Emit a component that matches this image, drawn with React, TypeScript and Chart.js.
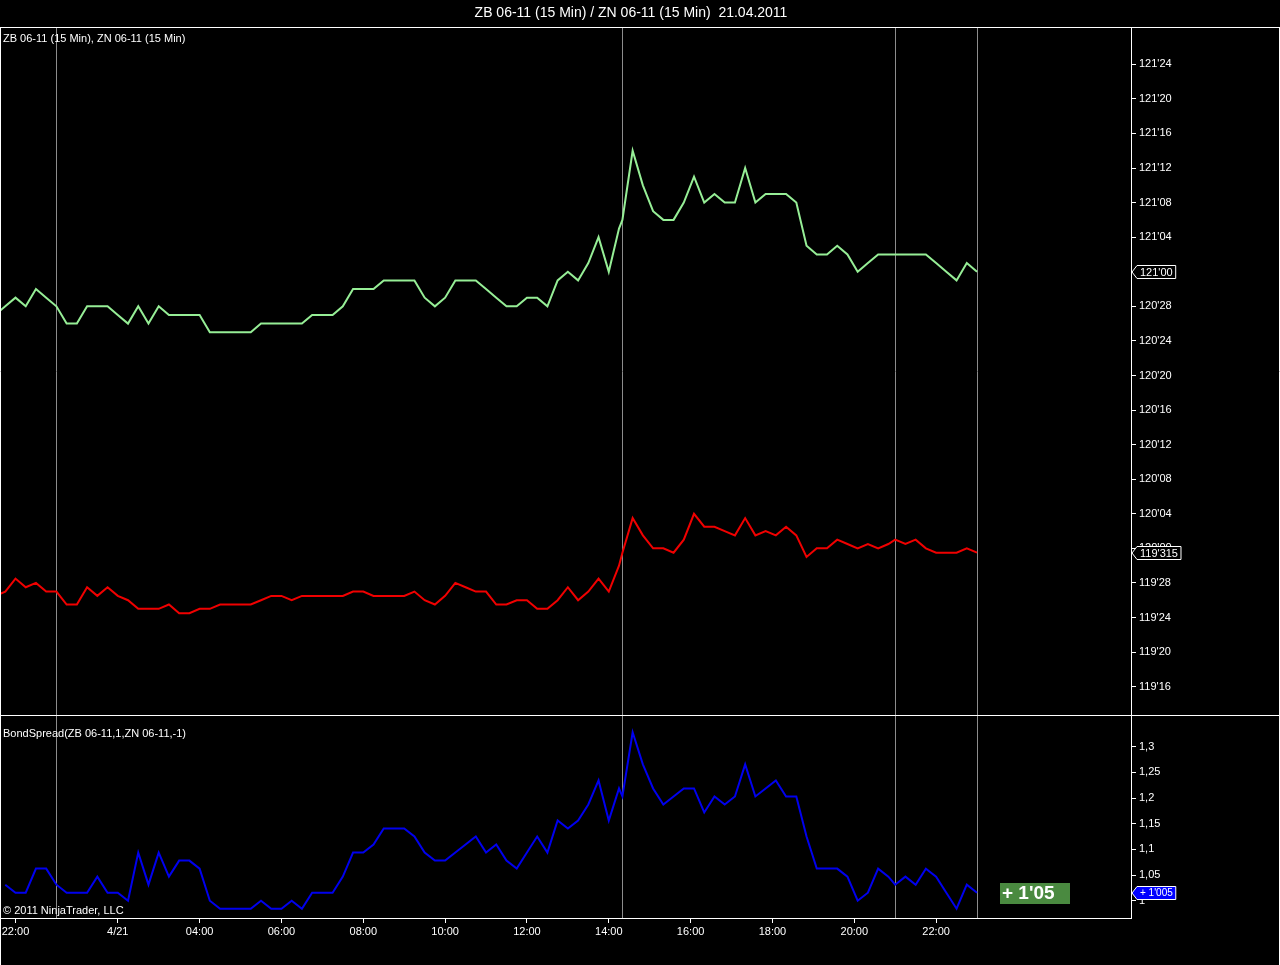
import React, { useEffect, useRef } from "react";
import { Chart, registerables } from "chart.js";

Chart.register(...registerables);

// ---------- texts ----------
const TITLE = "ZB 06-11 (15 Min) / ZN 06-11 (15 Min)  21.04.2011";
const PRICE_PANEL_LABEL = "ZB 06-11 (15 Min), ZN 06-11 (15 Min)";
const SPREAD_PANEL_LABEL = "BondSpread(ZB 06-11,1,ZN 06-11,-1)";
const COPYRIGHT = "\u00A9 2011 NinjaTrader, LLC";
const SPREAD_BADGE = "+ 1'05";

// ---------- data ----------
// bar position on the (gap-free) session time axis, in 15-minute slots;
// partial bars appear at the session breaks (14:20 and 21:00)
const barSlot = [
  0, 1, 2, 3, 4, 5, 6, 7, 8, 9,
  10, 11, 12, 13, 14, 15, 16, 17, 18, 19,
  20, 21, 22, 23, 24, 25, 26, 27, 28, 29,
  30, 31, 32, 33, 34, 35, 36, 37, 38, 39,
  40, 41, 42, 43, 44, 45, 46, 47, 48, 49,
  50, 51, 52, 53, 54, 55, 56, 57, 58, 59,
  60, 61,
  61.333, 62.333, 63.333, 64.333, 65.333, 66.333, 67.333, 68.333, 69.333, 70.333,
  71.333, 72.333, 73.333, 74.333, 75.333, 76.333, 77.333, 78.333, 79.333, 80.333,
  81.333, 82.333, 83.333, 84.333, 85.333, 86.333, 87.333,
  88, 89, 90, 91, 92, 93, 94, 95, 96,
];

// ZB 06-11 closes, in 32nds above 120'00
const ZB_HANDLE = 120;
const zb32 = [
  27, 28, 29, 28, 30, 29, 28, 26, 26, 28,
  28, 28, 27, 26, 28, 26, 28, 27, 27, 27,
  27, 25, 25, 25, 25, 25, 26, 26, 26, 26,
  26, 27, 27, 27, 28, 30, 30, 30, 31, 31,
  31, 31, 29, 28, 29, 31, 31, 31, 30, 29,
  28, 28, 29, 29, 28, 31, 32, 31, 33, 36,
  32, 37,
  38, 46, 42, 39, 38, 38, 40, 43, 40, 41,
  40, 40, 44, 40, 41, 41, 41, 40, 35, 34,
  34, 35, 34, 32, 33, 34, 34,
  34, 34, 34, 34, 33, 32, 31, 33, 32,
];

// ZN 06-11 closes, in 32nds above 119'00
const ZN_HANDLE = 119;
const zn32 = [
  26.5, 27, 28.5, 27.5, 28, 27, 27, 25.5, 25.5, 27.5,
  26.5, 27.5, 26.5, 26, 25, 25, 25, 25.5, 24.5, 24.5,
  25, 25, 25.5, 25.5, 25.5, 25.5, 26, 26.5, 26.5, 26,
  26.5, 26.5, 26.5, 26.5, 26.5, 27, 27, 26.5, 26.5, 26.5,
  26.5, 27, 26, 25.5, 26.5, 28, 27.5, 27, 27, 25.5,
  25.5, 26, 26, 25, 25, 26, 27.5, 26, 27, 28.5,
  27, 30,
  31.5, 35.5, 33.5, 32, 32, 31.5, 33, 36, 34.5, 34.5,
  34, 33.5, 35.5, 33.5, 34, 33.5, 34.5, 33.5, 31, 32,
  32, 33, 32.5, 32, 32.5, 32, 32.5,
  33, 32.5, 33, 32, 31.5, 31.5, 31.5, 32, 31.5,
];

// BondSpread values, in 32nds
const spread32: (number | null)[] = [
  null, 33, 32.5, 32.5, 34, 34, 33, 32.5, 32.5, 32.5,
  33.5, 32.5, 32.5, 32, 35, 33, 35, 33.5, 34.5, 34.5,
  34, 32, 31.5, 31.5, 31.5, 31.5, 32, 31.5, 31.5, 32,
  31.5, 32.5, 32.5, 32.5, 33.5, 35, 35, 35.5, 36.5, 36.5,
  36.5, 36, 35, 34.5, 34.5, 35, 35.5, 36, 35, 35.5,
  34.5, 34, 35, 36, 35, 37, 36.5, 37, 38, 39.5,
  37, 39,
  38.5, 42.5, 40.5, 39, 38, 38.5, 39, 39, 37.5, 38.5,
  38, 38.5, 40.5, 38.5, 39, 39.5, 38.5, 38.5, 36, 34,
  34, 34, 33.5, 32, 32.5, 34, 33.5,
  33, 33.5, 33, 34, 33.5, 32.5, 31.5, 33, 32.5,
];

// time axis labels
const timeTickSlots = [2, 12, 20, 28, 36, 44, 52, 60, 68, 76, 84, 92];
const timeTickLabels = ["22:00", "4/21", "04:00", "06:00", "08:00", "10:00", "12:00", "14:00", "16:00", "18:00", "20:00", "22:00"];
// session break markers
const sessionBreakSlots = [6, 61.333, 88, 96];

// price axis ticks (every 4/32)
const PRICE_TICK_FIRST = 119.5;
const PRICE_TICK_LAST = 121.75;
const PRICE_TICK_STEP = 4 / 32;
const spreadTicks = [1, 1.05, 1.1, 1.15, 1.2, 1.25, 1.3];

// ---------- view ranges / styling ----------
const X_MIN = 0.485;
const X_MAX = 111.053;
const PRICE_MIN = 119.3975;
const PRICE_MAX = 121.8812;
const SPREAD_MIN = 0.9663;
const SPREAD_MAX = 1.3618;

const FONT = "'Liberation Sans', Arial, sans-serif";
const GREEN = "#96ee96";
const RED = "#f00000";
const BLUE = "#0000ee";
const AXIS_WIDTH = 149;

const fmt32 = (v: number) => {
  const whole = Math.floor(v + 1e-9);
  const f = Math.round((v - whole) * 64) / 2;
  const i = Math.floor(f);
  const half = f - i >= 0.5;
  return `${whole}'${String(i).padStart(2, "0")}${half ? "5" : ""}`;
};

function drawMarker(ctx: CanvasRenderingContext2D, tipX: number, y: number, text: string, fill: string, font: string) {
  ctx.save();
  ctx.font = font;
  const w = ctx.measureText(text).width + 6;
  const h = 13;
  const bx = tipX + 5;
  const top = Math.round(y - h / 2) + 0.5;
  const bot = top + h;
  ctx.beginPath();
  ctx.moveTo(tipX, (top + bot) / 2);
  ctx.lineTo(bx, top);
  ctx.lineTo(bx + w, top);
  ctx.lineTo(bx + w, bot);
  ctx.lineTo(bx, bot);
  ctx.closePath();
  ctx.fillStyle = fill;
  ctx.fill();
  ctx.strokeStyle = "#ffffff";
  ctx.lineWidth = 1;
  ctx.stroke();
  ctx.fillStyle = "#ffffff";
  ctx.textAlign = "left";
  ctx.textBaseline = "middle";
  ctx.fillText(text, bx + 3, (top + bot) / 2 + 0.5);
  ctx.restore();
}

function drawSessionBreaks(chart: any) {
  const { ctx, chartArea } = chart;
  const xs = chart.scales.x;
  ctx.save();
  ctx.strokeStyle = "#8c8c8c";
  ctx.lineWidth = 1;
  for (const s of sessionBreakSlots) {
    const px = Math.round(xs.getPixelForValue(s)) + 0.5;
    ctx.beginPath();
    ctx.moveTo(px, chartArea.top);
    ctx.lineTo(px, chartArea.bottom);
    ctx.stroke();
  }
  ctx.restore();
}

function hline(ctx: CanvasRenderingContext2D, y: number, x0: number, x1: number) {
  ctx.beginPath();
  ctx.moveTo(x0, y);
  ctx.lineTo(x1, y);
  ctx.stroke();
}
function vline(ctx: CanvasRenderingContext2D, x: number, y0: number, y1: number) {
  ctx.beginPath();
  ctx.moveTo(x, y0);
  ctx.lineTo(x, y1);
  ctx.stroke();
}

const noPadding = (s: any) => {
  s.paddingTop = 0;
  s.paddingBottom = 0;
  s.paddingLeft = 0;
  s.paddingRight = 0;
};

export default function App() {
  const topRef = useRef<HTMLCanvasElement>(null);
  const botRef = useRef<HTMLCanvasElement>(null);

  useEffect(() => {
    const priceTicks: number[] = [];
    for (let v = PRICE_TICK_FIRST; v <= PRICE_TICK_LAST + 1e-9; v += PRICE_TICK_STEP) priceTicks.push(v);

    const zbData = barSlot.map((x, i) => ({ x, y: ZB_HANDLE + zb32[i] / 32 }));
    const znData = barSlot.map((x, i) => ({ x, y: ZN_HANDLE + zn32[i] / 32 }));
    const spreadData = barSlot.map((x, i) => ({ x, y: spread32[i] == null ? null : (spread32[i] as number) / 32 }));

    const topOverlay = {
      id: "topOverlay",
      beforeDatasetsDraw(chart: any) {
        drawSessionBreaks(chart);
      },
      afterDraw(chart: any) {
        const { ctx, width, height } = chart;
        const ys = chart.scales.y;
        const xs = chart.scales.x;
        ctx.save();
        ctx.strokeStyle = "#ffffff";
        ctx.lineWidth = 1;
        hline(ctx, 27.5, 0, width);
        vline(ctx, 0.5, 27.5, height);
        vline(ctx, width - 0.5, 27.5, height);
        ctx.fillStyle = "#ffffff";
        ctx.font = `14px ${FONT}`;
        ctx.textAlign = "center";
        ctx.textBaseline = "middle";
        ctx.fillText(TITLE, 631, 13);
        ctx.font = `11px ${FONT}`;
        ctx.textAlign = "left";
        ctx.fillText(PRICE_PANEL_LABEL, 3, 39);
        ctx.restore();
        const tipX = xs.right + 1;
        const lastZb = zbData[zbData.length - 1].y;
        const lastZn = znData[znData.length - 1].y;
        drawMarker(ctx, tipX, ys.getPixelForValue(lastZb), fmt32(lastZb), "#000000", `11px ${FONT}`);
        drawMarker(ctx, tipX, ys.getPixelForValue(lastZn), fmt32(lastZn), "#000000", `11px ${FONT}`);
      },
    };

    const botOverlay = {
      id: "botOverlay",
      beforeDatasetsDraw(chart: any) {
        drawSessionBreaks(chart);
      },
      afterDraw(chart: any) {
        const { ctx, width, height, chartArea } = chart;
        const ys = chart.scales.y;
        const xs = chart.scales.x;
        ctx.save();
        ctx.strokeStyle = "#ffffff";
        ctx.lineWidth = 1;
        hline(ctx, 0.5, 0, width);
        vline(ctx, 0.5, 0, height);
        vline(ctx, width - 0.5, 0, height);
        ctx.fillStyle = "#ffffff";
        ctx.font = `11px ${FONT}`;
        ctx.textAlign = "left";
        ctx.textBaseline = "middle";
        ctx.fillText(SPREAD_PANEL_LABEL, 3, 19);
        ctx.fillText(COPYRIGHT, 3, chartArea.bottom - 7);

        const lastSpread = spreadData[spreadData.length - 1].y as number;
        const lastSlot = barSlot[barSlot.length - 1];
        const yLast = ys.getPixelForValue(lastSpread);
        const bx = Math.round(xs.getPixelForValue(lastSlot)) + 23;
        ctx.fillStyle = "#4a8a40";
        ctx.fillRect(bx, Math.round(yLast) - 10, 70, 21);
        ctx.fillStyle = "#ffffff";
        ctx.font = `bold 19px ${FONT}`;
        ctx.fillText(SPREAD_BADGE, bx + 2, Math.round(yLast) + 1);
        ctx.restore();

        drawMarker(ctx, xs.right + 1, yLast, "+ " + fmt32(lastSpread), "#0000ff", `10px ${FONT}`);
      },
    };

    const xCommon = {
      type: "linear" as const,
      min: X_MIN,
      max: X_MAX,
    };

    const top = new Chart(topRef.current as HTMLCanvasElement, {
      type: "line",
      data: {
        datasets: [
          { label: "ZB 06-11", data: zbData, borderColor: GREEN, borderWidth: 2, pointRadius: 0, tension: 0 },
          { label: "ZN 06-11", data: znData, borderColor: RED, borderWidth: 2, pointRadius: 0, tension: 0 },
        ],
      },
      options: {
        responsive: false,
        animation: false,
        devicePixelRatio: 1,
        layout: { padding: { top: 28, left: 0, right: 0, bottom: 0 }, autoPadding: false },
        plugins: { legend: { display: false }, tooltip: { enabled: false }, title: { display: false } },
        events: [],
        scales: {
          x: { ...xCommon, display: false, afterFit: noPadding },
          y: {
            position: "right",
            min: PRICE_MIN,
            max: PRICE_MAX,
            afterBuildTicks: (s: any) => {
              s.ticks = priceTicks.map((v) => ({ value: v }));
            },
            afterFit: (s: any) => {
              s.width = AXIS_WIDTH;
              noPadding(s);
            },
            grid: { drawOnChartArea: false, drawTicks: true, tickLength: 5, color: "#ffffff", tickColor: "#ffffff" },
            border: { display: true, color: "#ffffff", width: 1 },
            ticks: {
              color: "#ffffff",
              font: { family: FONT, size: 11 },
              padding: 3,
              autoSkip: false,
              callback: (v: any) => fmt32(Number(v)),
            },
          },
        },
      },
      plugins: [topOverlay],
    } as any);

    const bot = new Chart(botRef.current as HTMLCanvasElement, {
      type: "line",
      data: {
        datasets: [
          { label: "BondSpread", data: spreadData, borderColor: BLUE, borderWidth: 2, pointRadius: 0, tension: 0, spanGaps: false },
        ],
      },
      options: {
        responsive: false,
        animation: false,
        devicePixelRatio: 1,
        layout: { padding: 0, autoPadding: false },
        plugins: { legend: { display: false }, tooltip: { enabled: false }, title: { display: false } },
        events: [],
        scales: {
          x: {
            ...xCommon,
            afterBuildTicks: (s: any) => {
              s.ticks = timeTickSlots.map((v) => ({ value: v }));
            },
            afterFit: (s: any) => {
              s.height = 47;
              noPadding(s);
            },
            grid: { drawOnChartArea: false, drawTicks: true, tickLength: 5, color: "#ffffff", tickColor: "#ffffff" },
            border: { display: true, color: "#ffffff", width: 1 },
            ticks: {
              color: "#ffffff",
              font: { family: FONT, size: 11 },
              padding: 2,
              maxRotation: 0,
              minRotation: 0,
              autoSkip: false,
              callback: (v: any) => {
                const idx = timeTickSlots.indexOf(Number(v));
                return idx >= 0 ? timeTickLabels[idx] : "";
              },
            },
          },
          y: {
            position: "right",
            min: SPREAD_MIN,
            max: SPREAD_MAX,
            afterBuildTicks: (s: any) => {
              s.ticks = spreadTicks.map((v) => ({ value: v }));
            },
            afterFit: (s: any) => {
              s.width = AXIS_WIDTH;
              noPadding(s);
            },
            grid: { drawOnChartArea: false, drawTicks: true, tickLength: 5, color: "#ffffff", tickColor: "#ffffff" },
            border: { display: true, color: "#ffffff", width: 1 },
            ticks: {
              color: "#ffffff",
              font: { family: FONT, size: 11 },
              padding: 3,
              autoSkip: false,
              callback: (v: any) => String(Number(v)).replace(".", ","),
            },
          },
        },
      },
      plugins: [botOverlay],
    } as any);

    return () => {
      top.destroy();
      bot.destroy();
    };
  }, []);

  return (
    <div
      style={{
        position: "fixed",
        left: 0,
        top: 0,
        width: 1280,
        height: 965,
        background: "#000000",
        overflow: "hidden",
      }}
    >
      <canvas
        ref={topRef}
        width={1280}
        height={715}
        style={{ position: "absolute", left: 0, top: 0, width: 1280, height: 715 }}
      />
      <canvas
        ref={botRef}
        width={1280}
        height={250}
        style={{ position: "absolute", left: 0, top: 715, width: 1280, height: 250 }}
      />
    </div>
  );
}
